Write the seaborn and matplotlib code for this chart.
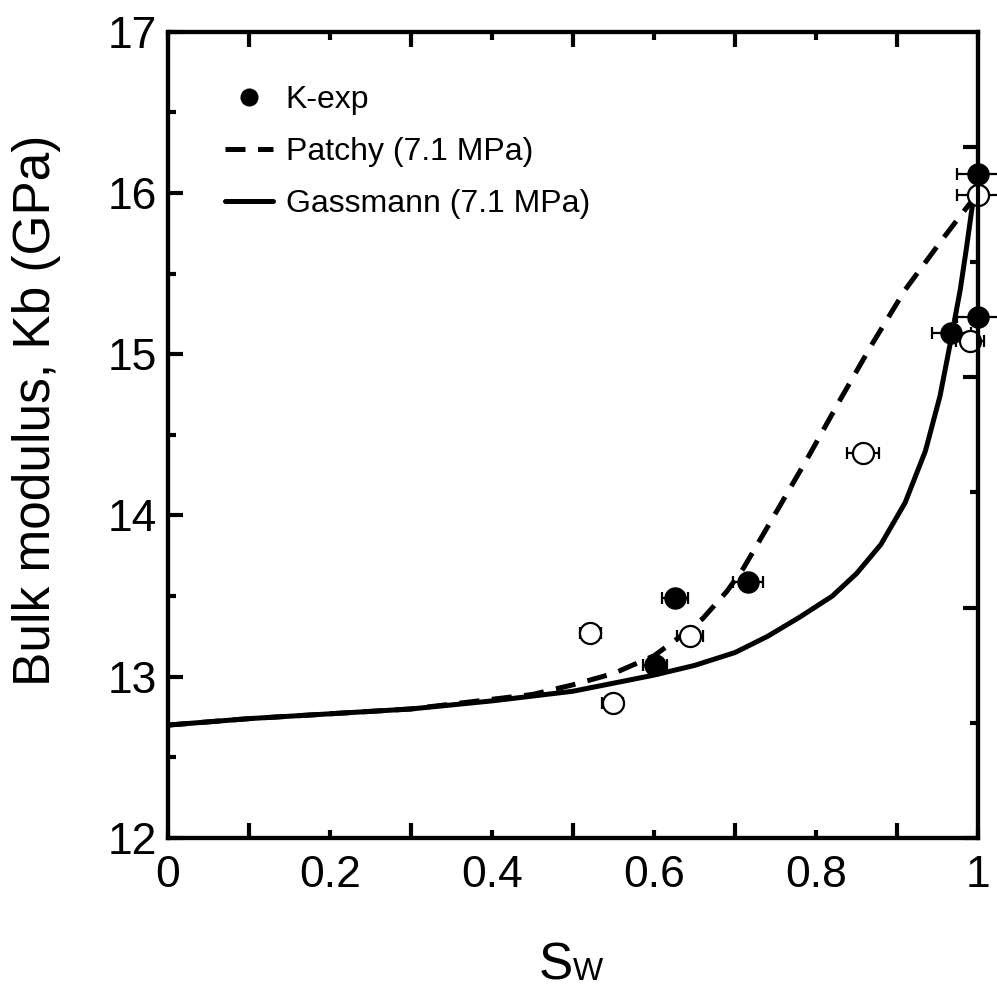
import numpy as np
import pandas as pd
import matplotlib
matplotlib.use("Agg")
import matplotlib.pyplot as plt
import seaborn as sns
from matplotlib.lines import Line2D

# Gassmann curve
gass_sw = [0, 0.1, 0.2, 0.3, 0.4, 0.5, 0.55, 0.6, 0.65, 0.7, 0.74, 0.78, 0.82,
           0.85, 0.88, 0.91, 0.935, 0.953, 0.965, 0.978, 0.986, 0.994, 1.0]
gass_k = [12.70, 12.74, 12.77, 12.80, 12.85, 12.91, 12.96, 13.01, 13.07, 13.15,
          13.25, 13.37, 13.50, 13.64, 13.82, 14.08, 14.40, 14.74, 15.05, 15.40,
          15.67, 15.96, 16.0]

# Patchy curve
patchy_sw = [0, 0.1, 0.2, 0.3, 0.4, 0.45, 0.5, 0.55, 0.6, 0.63, 0.66, 0.69, 0.71,
             0.76, 0.79, 0.83, 0.87, 0.91, 0.957, 0.986, 1.0]
patchy_k = [12.70, 12.74, 12.77, 12.80, 12.86, 12.89, 12.95, 13.02, 13.13, 13.24,
            13.36, 13.53, 13.67, 14.10, 14.36, 14.72, 15.07, 15.40, 15.72, 15.91, 16.0]

# experimental points, filled
kexp_sw = [0.601, 0.626, 0.716, 0.967, 1.0, 1.0]
kexp_k = [13.07, 13.49, 13.59, 15.13, 15.23, 16.12]
kexp_err = [0.015, 0.016, 0.018, 0.024, 0.026, 0.026]

# experimental points, open
open_sw = [0.521, 0.549, 0.644, 0.858, 0.99, 1.0]
open_k = [13.27, 12.84, 13.25, 14.39, 15.08, 15.99]
open_err = [0.013, 0.013, 0.016, 0.02, 0.017, 0.026]

sns.set_style("ticks")
plt.rcParams['font.family'] = ['Liberation Sans', 'DejaVu Sans']
plt.rcParams['text.color'] = 'black'
plt.rcParams['xtick.color'] = 'black'
plt.rcParams['ytick.color'] = 'black'
plt.rcParams['axes.labelcolor'] = 'black'
plt.rcParams['axes.edgecolor'] = 'black'

LW = 3.6
DASH = (4.0, 2.5)

fig = plt.figure(figsize=(9.97, 9.94), dpi=100)
ax = fig.add_axes([0.1685, 0.157, 0.8125, 0.811])

sns.lineplot(x=gass_sw, y=gass_k, ax=ax, color='black', lw=LW,
             sort=False, legend=False)
sns.lineplot(x=patchy_sw, y=patchy_k, ax=ax, color='black', lw=LW,
             sort=False, legend=False)
ax.lines[1].set_dashes(DASH)

eb1 = ax.errorbar(open_sw, open_k, xerr=open_err, fmt='none', ecolor='black',
                  elinewidth=1.6, capsize=4.5, capthick=1.6, zorder=4)
eb2 = ax.errorbar(kexp_sw, kexp_k, xerr=kexp_err, fmt='none', ecolor='black',
                  elinewidth=1.6, capsize=4.5, capthick=1.6, zorder=4)
for eb in (eb1, eb2):
    for art in eb.lines[1] + eb.lines[2]:
        art.set_clip_on(False)
sns.scatterplot(x=open_sw, y=open_k, ax=ax, s=230, color='white',
                edgecolor='black', linewidth=1.6, zorder=5, legend=False,
                clip_on=False)
sns.scatterplot(x=kexp_sw, y=kexp_k, ax=ax, s=230, color='black',
                edgecolor='black', linewidth=1.0, zorder=6, legend=False,
                clip_on=False)

ax.set_xlim(0, 1)
ax.set_ylim(12, 17)
ax.set_xticks([0, 0.2, 0.4, 0.6, 0.8, 1.0])
ax.set_xticklabels(['0', '0.2', '0.4', '0.6', '0.8', '1'])
ax.set_xticks([0.1, 0.3, 0.5, 0.7, 0.9], minor=True)
ax.set_yticks([12, 13, 14, 15, 16, 17])
ax.set_yticks([12.5, 13.5, 14.5, 15.5, 16.5], minor=True)

for s in ax.spines.values():
    s.set_visible(True)
    s.set_linewidth(3.0)
    s.set_color('black')

ax.tick_params(axis='x', which='major', direction='in', length=6, width=3,
               top=True, labelsize=32, pad=12)
ax.tick_params(axis='x', which='minor', direction='in', length=11, width=3, top=True)
ax.tick_params(axis='y', which='major', direction='in', length=11, width=3,
               right=False, labelsize=32, pad=8)
ax.tick_params(axis='y', which='minor', direction='in', length=6, width=3, right=False)

# right axis with its own tick spacing
ax2 = ax.twinx()
ax2.set_ylim(0, 7)
ax2.set_yticks([0, 2, 4, 6])
ax2.set_yticks([1, 3, 5], minor=True)
ax2.tick_params(axis='y', which='major', direction='in', length=11, width=3, labelright=False)
ax2.tick_params(axis='y', which='minor', direction='in', length=6, width=3)
for s in ax2.spines.values():
    s.set_linewidth(3.0)
    s.set_color('black')

ax.set_ylabel('Bulk modulus, Kb (GPa)', fontsize=37)
ax.yaxis.set_label_coords(-0.132, 0.53)
ax.set_xlabel('')
ax.text(0.5, -0.176, 'S', transform=ax.transAxes, fontsize=37, ha='right', va='baseline')
ax.text(0.5, -0.176, 'W', transform=ax.transAxes, fontsize=23, ha='left', va='baseline')

handles = [
    Line2D([], [], marker='o', color='black', ls='none', markersize=12),
    Line2D([], [], color='black', lw=LW, dashes=DASH),
    Line2D([], [], color='black', lw=LW),
]
ax.legend(handles, ['K-exp', 'Patchy (7.1 MPa)', 'Gassmann (7.1 MPa)'],
          loc='upper left', bbox_to_anchor=(0.035, 0.97), frameon=False,
          fontsize=23, handlelength=1.5, handletextpad=0.4, labelspacing=0.7)

fig.savefig('out.png', dpi=100)
